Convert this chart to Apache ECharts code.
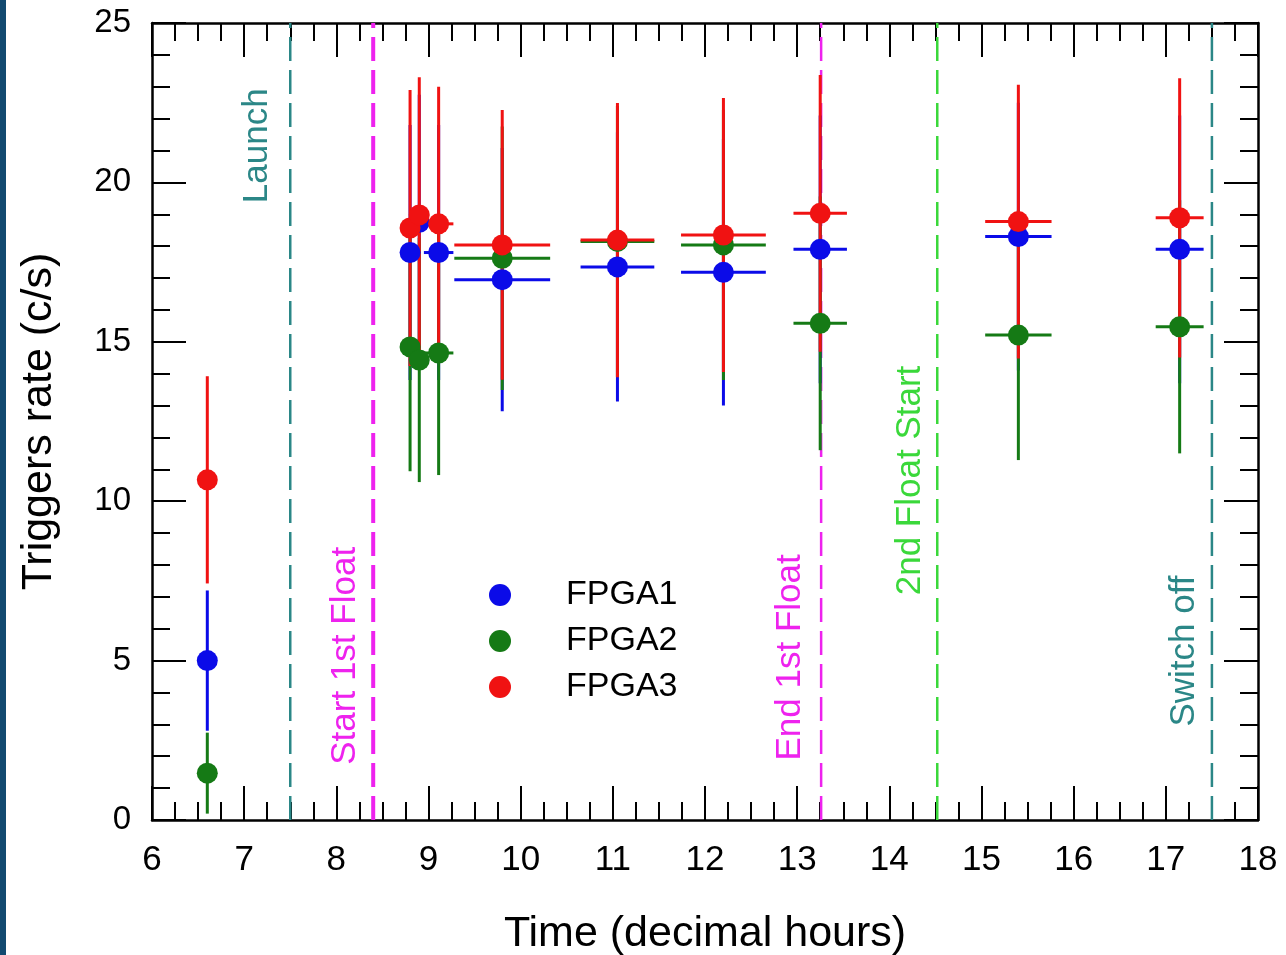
<!DOCTYPE html>
<html><head><meta charset="utf-8">
<script src="https://cdn.jsdelivr.net/npm/echarts@6/dist/echarts.min.js"></script>
<style>html,body{margin:0;padding:0;background:#fff;}#chart{width:1286px;height:955px;}</style>
</head><body><div id="chart"></div>
<script>
// ---- data ----
const time    = [6.6, 8.8, 8.9, 9.11, 9.8, 11.05, 12.2, 13.25, 15.4, 17.15];
const timeErr = [0, 0.05, 0.05, 0.16, 0.52, 0.4, 0.46, 0.29, 0.36, 0.26];
const fpga1    = [5.0, 17.8, 18.75, 17.8, 16.95, 17.35, 17.18, 17.9, 18.3, 17.9];
const fpga1Err = [2.2, 4.0, 4.0, 4.0, 4.13, 4.22, 4.18, 4.2, 4.2, 4.2];
const fpga2    = [1.47, 14.84, 14.43, 14.65, 17.62, 18.15, 18.04, 15.58, 15.21, 15.47];
const fpga2Err = [1.27, 3.9, 3.83, 3.83, 4.13, 4.25, 4.24, 3.98, 3.92, 3.97];
const fpga3    = [10.67, 18.57, 18.98, 18.7, 18.04, 18.19, 18.35, 19.03, 18.77, 18.89];
const fpga3Err = [3.25, 4.33, 4.32, 4.3, 4.23, 4.3, 4.3, 4.34, 4.29, 4.38];
const seriesNames = ['FPGA1', 'FPGA2', 'FPGA3'];
const eventNames = ['Launch', 'Start 1st Float', 'End 1st Float', '2nd Float Start', 'Switch off'];
const eventTimes = [7.5, 8.4, 13.26, 14.52, 17.5];
const xTicks = [6, 18, 1];
const yTicks = [0, 25, 5];

// ---- styles / layout ----
const seriesColors = ['#0b0be8', '#157a15', '#f01212'];
const eventColors = ['#2b8787', '#ee22ee', '#ee22ee', '#3ad83a', '#2b8787'];
const eventWidths = [2.5, 4, 2.5, 2.5, 2.5];
const eventLabelY = [21.15, 5.15, 5.1, 10.65, 5.3];
const eventLabelOffset = [33, 28, 31, 27, 28];
const FONT = '"Liberation Sans", Arial, sans-serif';

const chart = echarts.init(document.getElementById('chart'), null, {renderer: 'canvas'});

function errRender(params, api) {
  const x = api.value(0), y = api.value(1), ex = api.value(2), ey = api.value(3);
  const c = api.visual('color');
  const v1 = api.coord([x, y - ey]), v2 = api.coord([x, y + ey]);
  const h1 = api.coord([x - ex, y]), h2 = api.coord([x + ex, y]);
  const st = {stroke: c, lineWidth: 3};
  const children = [
    {type: 'line', shape: {x1: v1[0], y1: v1[1], x2: v2[0], y2: v2[1]}, style: st}
  ];
  if (ex > 0) children.push({type: 'line', shape: {x1: h1[0], y1: h1[1], x2: h2[0], y2: h2[1]}, style: st});
  return {type: 'group', children: children};
}

function eventRender(params, api) {
  const i = params.dataIndex;
  const t = api.value(0);
  const top = api.coord([t, yTicks[1]]), bot = api.coord([t, yTicks[0]]);
  const lp = api.coord([t, api.value(1)]);
  return {type: 'group', children: [
    {type: 'line', shape: {x1: bot[0], y1: bot[1], x2: top[0], y2: top[1]},
     style: {stroke: eventColors[i], lineWidth: eventWidths[i], lineDash: [24, 9]}},
    {type: 'text', x: lp[0] - eventLabelOffset[i], y: lp[1], rotation: Math.PI / 2,
     style: {text: eventNames[i], fill: eventColors[i], font: '35px ' + FONT, align: 'center', verticalAlign: 'middle'}}
  ]};
}

const values = [fpga1, fpga2, fpga3];
const errs = [fpga1Err, fpga2Err, fpga3Err];

const series = [{
  type: 'custom', name: 'events', silent: true,
  renderItem: eventRender,
  data: eventTimes.map((t, i) => [t, eventLabelY[i]]),
  encode: {x: 0, y: 1}, z: 1
}];
for (let k = 0; k < 3; k++) {
  series.push({
    type: 'custom', name: seriesNames[k] + ' err', silent: true,
    itemStyle: {color: seriesColors[k]},
    renderItem: errRender,
    data: time.map((t, i) => [t, values[k][i], timeErr[i], errs[k][i]]),
    encode: {x: 0, y: 1}, z: 2
  });
  series.push({
    type: 'scatter', name: seriesNames[k], symbol: 'circle', symbolSize: 21,
    itemStyle: {color: seriesColors[k], opacity: 1, borderWidth: 0},
    data: time.map((t, i) => [t, values[k][i]]), z: 2
  });
}

const axisLine = {show: true, onZero: false, lineStyle: {color: '#000', width: 2.5}};
const axisTick = {show: true, inside: true, length: 34, lineStyle: {color: '#000', width: 2}};
const minorTick = (n) => ({show: true, splitNumber: n, length: 18, lineStyle: {color: '#000', width: 2}});

chart.setOption({
  animation: false,
  backgroundColor: '#fff',
  graphic: [{type: 'rect', left: 0, top: 0, shape: {width: 6, height: 955}, style: {fill: '#124a70'}}],
  grid: {left: 152, top: 23, right: 28, bottom: 135, containLabel: false, outerBoundsMode: 'none'},
  legend: {
    data: seriesNames, orient: 'vertical', left: 484, top: 573,
    itemWidth: 22, itemHeight: 22, itemGap: 12, icon: 'circle', selectedMode: false,
    textStyle: {fontSize: 34, color: '#000', fontFamily: FONT, padding: [0, 0, 0, 50]}
  },
  xAxis: [{
    type: 'value', position: 'bottom', min: xTicks[0], max: xTicks[1], interval: xTicks[2],
    axisLine: axisLine, axisTick: axisTick, minorTick: minorTick(4),
    splitLine: {show: false}, minorSplitLine: {show: false},
    axisLabel: {fontSize: 35, color: '#000', margin: 23, fontFamily: FONT, showMinLabel: true, showMaxLabel: true},
    name: 'Time (decimal hours)', nameLocation: 'middle', nameGap: 93,
    nameTextStyle: {fontSize: 43, color: '#000', fontFamily: FONT}
  }, {
    type: 'value', position: 'top', min: xTicks[0], max: xTicks[1], interval: xTicks[2],
    axisLine: axisLine, axisTick: axisTick, minorTick: minorTick(4),
    splitLine: {show: false}, axisLabel: {show: false}
  }],
  yAxis: [{
    type: 'value', position: 'left', min: yTicks[0], max: yTicks[1], interval: yTicks[2],
    axisLine: axisLine, axisTick: axisTick, minorTick: minorTick(5),
    splitLine: {show: false}, minorSplitLine: {show: false},
    axisLabel: {fontSize: 33, color: '#000', margin: 21, fontFamily: FONT, showMinLabel: true, showMaxLabel: true},
    name: 'Triggers rate (c/s)', nameLocation: 'middle', nameGap: 91, nameRotate: 90,
    nameTextStyle: {fontSize: 43, color: '#000', fontFamily: FONT}
  }, {
    type: 'value', position: 'right', min: yTicks[0], max: yTicks[1], interval: yTicks[2],
    axisLine: axisLine, axisTick: axisTick, minorTick: minorTick(5),
    splitLine: {show: false}, axisLabel: {show: false}
  }],
  series: series
});
</script>
</body></html>
